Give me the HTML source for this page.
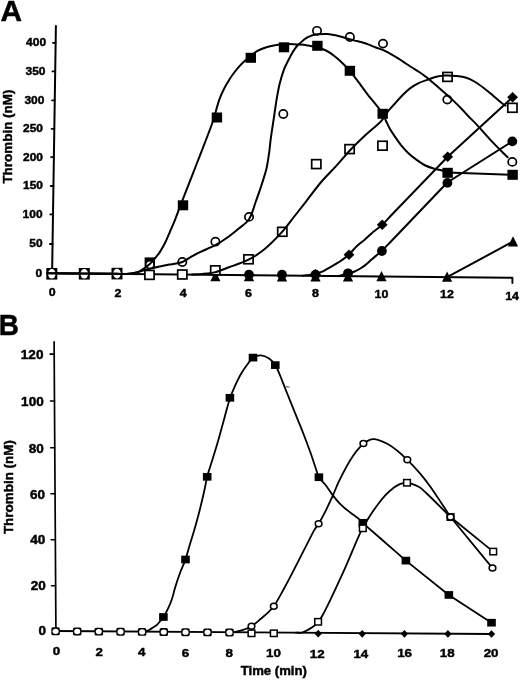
<!DOCTYPE html>
<html><head><meta charset="utf-8"><style>
html,body{margin:0;padding:0;background:#fff;}
svg{display:block;}
text{font-family:"Liberation Sans",sans-serif;font-weight:bold;fill:#000;stroke:#000;stroke-width:0.45px;}
</style></head><body>
<svg width="520" height="681" viewBox="0 0 520 681">
<rect width="520" height="681" fill="#fff"/>
<text transform="translate(0.60,20.80) scale(1.030,1)" font-size="29.00">A</text>
<path d="M55.9,26.0 L52.1,273.3" fill="none" stroke="#000" stroke-width="2" stroke-linecap="round" stroke-linejoin="round"/>
<path d="M52.9,42.8 L55.6,42.8" fill="none" stroke="#000" stroke-width="1.8" stroke-linecap="round" stroke-linejoin="round"/>
<path d="M52.5,71.4 L55.2,71.4" fill="none" stroke="#000" stroke-width="1.8" stroke-linecap="round" stroke-linejoin="round"/>
<path d="M52.1,100.3 L54.8,100.3" fill="none" stroke="#000" stroke-width="1.8" stroke-linecap="round" stroke-linejoin="round"/>
<path d="M51.6,128.8 L54.3,128.8" fill="none" stroke="#000" stroke-width="1.8" stroke-linecap="round" stroke-linejoin="round"/>
<path d="M51.2,157.2 L53.9,157.2" fill="none" stroke="#000" stroke-width="1.8" stroke-linecap="round" stroke-linejoin="round"/>
<path d="M50.7,186.0 L53.4,186.0" fill="none" stroke="#000" stroke-width="1.8" stroke-linecap="round" stroke-linejoin="round"/>
<path d="M50.3,214.4 L53.0,214.4" fill="none" stroke="#000" stroke-width="1.8" stroke-linecap="round" stroke-linejoin="round"/>
<path d="M49.9,244.0 L52.6,244.0" fill="none" stroke="#000" stroke-width="1.8" stroke-linecap="round" stroke-linejoin="round"/>
<text transform="translate(26.08,45.75) scale(1.060,1)" font-size="11.30">400</text>
<text transform="translate(25.48,75.05) scale(1.060,1)" font-size="11.30">350</text>
<text transform="translate(24.38,103.86) scale(1.060,1)" font-size="11.30">300</text>
<text transform="translate(22.98,132.46) scale(1.060,1)" font-size="11.30">250</text>
<text transform="translate(22.98,160.66) scale(1.060,1)" font-size="11.30">200</text>
<text transform="translate(22.98,189.26) scale(1.060,1)" font-size="11.30">150</text>
<text transform="translate(22.58,218.36) scale(1.060,1)" font-size="11.30">100</text>
<text transform="translate(29.28,247.46) scale(1.060,1)" font-size="11.30">50</text>
<text transform="translate(35.59,276.56) scale(1.060,1)" font-size="11.30">0</text>
<text transform="translate(48.69,296.46) scale(1.070,1)" font-size="11.60">0</text>
<text transform="translate(114.59,296.56) scale(1.070,1)" font-size="11.60">2</text>
<text transform="translate(179.66,296.70) scale(1.070,1)" font-size="11.60">4</text>
<text transform="translate(245.02,297.06) scale(1.070,1)" font-size="11.60">6</text>
<text transform="translate(312.02,297.06) scale(1.070,1)" font-size="11.60">8</text>
<text transform="translate(374.59,297.56) scale(1.070,1)" font-size="11.60">10</text>
<text transform="translate(439.99,298.46) scale(1.070,1)" font-size="11.60">12</text>
<text transform="translate(505.14,299.60) scale(1.070,1)" font-size="11.60">14</text>
<text transform="translate(12.4,183.6) rotate(-90)" font-size="13.45">Thrombin (nM)</text>
<path d="M52.1,273.2 L512.4,277.8 L512.4,283.0" fill="none" stroke="#000" stroke-width="1.9" stroke-linecap="round" stroke-linejoin="round"/>
<polygon points="215.4,270.9 220.5,281.2 210.3,281.2" fill="#000"/>
<polygon points="249.0,271.0 254.1,281.3 243.9,281.3" fill="#000"/>
<polygon points="282.0,271.1 287.1,281.4 276.9,281.4" fill="#000"/>
<polygon points="315.5,271.2 320.6,281.5 310.4,281.5" fill="#000"/>
<polygon points="348.0,271.3 353.1,281.6 342.9,281.6" fill="#000"/>
<polygon points="381.5,271.0 386.6,281.3 376.4,281.3" fill="#000"/>
<polygon points="447.1,271.4 452.2,281.7 442.0,281.7" fill="#000"/>
<polygon points="513.0,236.2 518.1,246.5 507.9,246.5" fill="#000"/>
<circle cx="249.0" cy="274.6" r="4.90" fill="#000"/>
<circle cx="282.0" cy="274.6" r="4.90" fill="#000"/>
<circle cx="315.5" cy="274.6" r="4.90" fill="#000"/>
<circle cx="348.0" cy="273.3" r="4.90" fill="#000"/>
<circle cx="381.9" cy="251.0" r="4.90" fill="#000"/>
<circle cx="447.4" cy="182.9" r="4.90" fill="#000"/>
<circle cx="512.3" cy="141.4" r="4.90" fill="#000"/>
<polygon points="315.50,269.00 320.90,274.30 315.50,279.60 310.10,274.30" fill="#000"/>
<polygon points="349.00,249.40 354.40,254.70 349.00,260.00 343.60,254.70" fill="#000"/>
<polygon points="382.20,219.50 387.60,224.80 382.20,230.10 376.80,224.80" fill="#000"/>
<polygon points="447.70,151.50 453.10,156.80 447.70,162.10 442.30,156.80" fill="#000"/>
<polygon points="512.60,91.90 518.00,97.20 512.60,102.50 507.20,97.20" fill="#000"/>
<rect x="144.90" y="270.45" width="9.20" height="8.90" rx="0.00" fill="#fff" stroke="#000" stroke-width="1.7"/>
<rect x="177.70" y="270.05" width="9.20" height="8.90" rx="0.00" fill="#fff" stroke="#000" stroke-width="1.7"/>
<rect x="210.70" y="265.85" width="9.20" height="8.90" rx="0.00" fill="#fff" stroke="#000" stroke-width="1.7"/>
<rect x="243.90" y="254.85" width="9.20" height="8.90" rx="0.00" fill="#fff" stroke="#000" stroke-width="1.7"/>
<rect x="277.70" y="227.35" width="9.20" height="8.90" rx="0.00" fill="#fff" stroke="#000" stroke-width="1.7"/>
<rect x="311.70" y="159.65" width="9.20" height="8.90" rx="0.00" fill="#fff" stroke="#000" stroke-width="1.7"/>
<rect x="345.00" y="144.65" width="9.20" height="8.90" rx="0.00" fill="#fff" stroke="#000" stroke-width="1.7"/>
<rect x="377.90" y="141.25" width="9.20" height="8.90" rx="0.00" fill="#fff" stroke="#000" stroke-width="1.7"/>
<rect x="442.90" y="72.45" width="9.20" height="8.90" rx="0.00" fill="#fff" stroke="#000" stroke-width="1.7"/>
<rect x="507.80" y="103.35" width="9.20" height="8.90" rx="0.00" fill="#fff" stroke="#000" stroke-width="1.7"/>
<rect x="144.60" y="257.40" width="10.40" height="10.00" rx="0.00" fill="#000"/>
<rect x="177.80" y="200.30" width="10.40" height="10.00" rx="0.00" fill="#000"/>
<rect x="211.70" y="112.50" width="10.40" height="10.00" rx="0.00" fill="#000"/>
<rect x="245.60" y="52.80" width="10.40" height="10.00" rx="0.00" fill="#000"/>
<rect x="278.80" y="42.30" width="10.40" height="10.00" rx="0.00" fill="#000"/>
<rect x="312.20" y="40.80" width="10.40" height="10.00" rx="0.00" fill="#000"/>
<rect x="344.70" y="65.80" width="10.40" height="10.00" rx="0.00" fill="#000"/>
<rect x="377.50" y="108.80" width="10.40" height="10.00" rx="0.00" fill="#000"/>
<rect x="442.40" y="167.80" width="10.40" height="10.00" rx="0.00" fill="#000"/>
<rect x="507.40" y="169.80" width="10.40" height="10.00" rx="0.00" fill="#000"/>
<ellipse cx="149.90" cy="264.60" rx="4.15" ry="4.05" fill="#fff" stroke="#000" stroke-width="1.7"/>
<ellipse cx="182.30" cy="262.00" rx="4.15" ry="4.05" fill="#fff" stroke="#000" stroke-width="1.7"/>
<ellipse cx="215.40" cy="241.70" rx="4.15" ry="4.05" fill="#fff" stroke="#000" stroke-width="1.7"/>
<ellipse cx="249.00" cy="216.90" rx="4.15" ry="4.05" fill="#fff" stroke="#000" stroke-width="1.7"/>
<ellipse cx="283.30" cy="114.00" rx="4.15" ry="4.05" fill="#fff" stroke="#000" stroke-width="1.7"/>
<ellipse cx="317.00" cy="30.80" rx="4.15" ry="4.05" fill="#fff" stroke="#000" stroke-width="1.7"/>
<ellipse cx="349.90" cy="37.00" rx="4.15" ry="4.05" fill="#fff" stroke="#000" stroke-width="1.7"/>
<ellipse cx="383.00" cy="43.60" rx="4.15" ry="4.05" fill="#fff" stroke="#000" stroke-width="1.7"/>
<ellipse cx="447.30" cy="99.60" rx="4.15" ry="4.05" fill="#fff" stroke="#000" stroke-width="1.7"/>
<ellipse cx="512.30" cy="161.90" rx="4.15" ry="4.05" fill="#fff" stroke="#000" stroke-width="1.7"/>
<rect x="46.30" y="268.00" width="11.00" height="11.60" rx="0.00" fill="#000"/>
<ellipse cx="51.8" cy="273.8" rx="3.8" ry="4.8" fill="#fff"/>
<rect x="78.80" y="268.00" width="11.00" height="11.60" rx="0.00" fill="#000"/>
<ellipse cx="84.3" cy="273.8" rx="3.8" ry="4.8" fill="#fff"/>
<rect x="111.50" y="267.80" width="11.00" height="11.60" rx="0.00" fill="#000"/>
<ellipse cx="117.0" cy="273.6" rx="3.8" ry="4.8" fill="#fff"/>
<path d="M47.2,273.2 C70.5,273.4 104.7,273.7 117.0,273.8 C121.4,273.9 123.2,274.1 126.0,273.9 C128.5,273.8 130.8,273.6 133.0,273.2 C135.1,272.8 137.0,272.5 139.0,271.6 C141.1,270.7 143.3,269.0 145.3,267.6 C147.2,266.2 149.0,264.9 150.6,263.3 C152.3,261.7 153.7,259.8 155.2,258.0 C156.8,256.1 158.3,254.4 159.8,252.1 C161.6,249.4 163.5,246.0 165.1,242.8 C166.8,239.4 168.2,235.8 169.7,232.3 C171.2,228.8 172.9,225.3 174.3,221.7 C175.7,218.2 177.0,214.6 178.3,211.1 C179.7,207.5 180.6,205.0 182.4,200.4 C185.8,191.7 192.1,175.7 197.0,163.0 C202.1,149.8 209.4,131.5 212.5,122.5 C214.0,118.1 214.4,116.1 215.5,112.5 C216.7,108.4 217.9,103.4 219.4,99.3 C220.8,95.5 222.4,92.0 224.1,88.7 C225.6,85.7 227.2,83.1 228.8,80.5 C230.3,78.0 231.8,75.8 233.5,73.5 C235.3,71.1 237.3,68.6 239.3,66.4 C241.2,64.3 243.2,62.4 245.2,60.6 C247.1,58.8 249.0,57.2 251.0,55.6 C253.0,54.0 254.9,52.4 257.0,51.2 C259.1,50.0 261.1,49.2 263.5,48.3 C266.2,47.3 269.4,46.5 272.3,45.8 C274.9,45.2 277.3,44.7 280.0,44.4 C282.8,44.1 285.9,44.1 288.7,44.1 C291.4,44.1 294.2,44.4 296.8,44.5 C299.2,44.6 301.5,44.6 303.6,44.8 C305.3,45.0 306.7,45.3 308.3,45.6 C309.9,45.9 311.4,46.2 313.0,46.5 C314.6,46.8 316.2,47.0 318.0,47.5 C320.4,48.2 323.4,49.2 326.0,50.5 C328.7,51.9 331.5,53.8 334.0,55.7 C336.5,57.6 338.6,59.4 341.0,61.7 C343.8,64.4 346.6,67.0 349.9,70.8 C354.6,76.3 360.5,85.1 366.0,92.3 C371.5,99.5 379.4,108.3 382.8,113.9 C384.7,117.1 385.2,119.3 386.5,122.0 C387.8,124.6 388.9,127.2 390.4,129.8 C392.0,132.5 394.0,135.3 395.8,137.9 C397.6,140.4 399.2,142.9 401.2,145.3 C403.3,147.8 405.5,150.4 407.9,152.7 C410.4,155.1 413.1,157.3 416.0,159.4 C419.0,161.6 422.2,163.9 425.4,165.5 C428.4,167.0 431.8,167.9 434.8,168.8 C437.6,169.6 440.6,170.2 442.9,170.9 C444.7,171.4 446.0,171.9 447.6,172.4" fill="none" stroke="#000" stroke-width="2.0" stroke-linecap="round" stroke-linejoin="round"/>
<path d="M447.6,172.6 L512.6,174.9" fill="none" stroke="#000" stroke-width="2.0" stroke-linecap="round" stroke-linejoin="round"/>
<path d="M47.2,273.2 C70.5,273.4 104.7,273.7 117.0,273.8 C121.4,273.9 123.1,274.1 126.0,273.9 C128.7,273.8 131.5,273.5 134.0,273.0 C136.2,272.6 137.9,272.1 140.0,271.5 C142.5,270.8 145.1,269.9 147.9,269.2 C151.2,268.4 155.0,267.6 158.5,266.8 C162.0,266.0 165.4,265.4 169.1,264.6 C173.3,263.8 178.6,263.4 182.3,262.0 C185.4,260.8 187.4,259.0 190.2,257.4 C193.3,255.7 196.3,253.9 200.0,252.1 C204.5,249.9 210.5,247.8 215.4,245.2 C220.1,242.6 224.8,239.4 228.8,236.5 C232.4,233.9 235.3,231.6 238.5,228.8 C242.0,225.8 246.2,223.3 249.0,219.2 C252.3,214.4 253.8,206.9 256.0,201.0 C258.0,195.4 259.9,190.1 261.7,184.6 C263.4,179.2 265.2,173.9 266.5,168.5 C267.7,163.1 268.5,157.3 269.2,152.3 C269.8,147.9 270.1,144.1 270.6,140.0 C271.1,136.0 271.7,132.3 272.3,128.2 C273.0,123.6 273.8,118.4 274.5,113.5 C275.2,108.6 275.9,103.7 276.7,98.8 C277.6,93.9 278.4,89.0 279.6,84.1 C280.8,79.2 282.6,73.2 284.0,69.4 C284.9,67.0 285.7,65.5 286.7,63.5 C287.7,61.3 288.9,59.0 290.1,56.9 C291.2,54.8 292.3,52.8 293.5,50.9 C294.6,49.2 295.6,47.5 296.8,46.2 C297.9,45.0 299.1,44.1 300.2,43.1 C301.3,42.1 302.5,41.0 303.6,40.1 C304.7,39.2 305.8,38.4 306.9,37.7 C308.0,37.1 309.2,36.6 310.3,36.1 C311.4,35.7 312.4,35.3 313.6,35.0 C314.9,34.7 316.3,34.5 318.0,34.3 C320.5,34.1 324.0,33.8 327.3,34.1 C331.1,34.4 335.5,35.4 339.4,36.3 C343.0,37.1 346.9,38.5 349.8,39.3 C351.8,39.8 353.1,40.1 355.0,40.6 C357.1,41.1 359.6,41.6 361.9,42.3 C364.2,43.0 366.5,43.7 368.8,44.6 C371.1,45.5 373.5,46.6 375.8,47.5 C378.1,48.4 380.4,48.9 382.7,49.8 C385.0,50.8 387.3,52.1 389.6,53.3 C391.9,54.6 394.2,55.9 396.5,57.3 C398.8,58.7 401.1,60.4 403.4,61.9 C405.7,63.4 407.9,64.9 410.4,66.5 C413.3,68.4 416.9,70.4 420.0,72.5 C423.1,74.7 426.2,76.9 429.2,79.4 C432.3,81.9 435.4,84.8 438.5,87.5 C441.6,90.2 444.9,93.1 447.7,95.6 C450.2,97.8 452.3,99.7 454.6,101.9 C456.9,104.1 459.2,106.4 461.5,108.8 C463.8,111.2 466.0,113.8 468.4,116.3 C471.0,119.0 473.4,121.1 476.5,124.4 C480.9,129.1 487.7,137.0 492.3,141.9 C495.7,145.5 498.7,148.4 501.5,151.2 C503.8,153.5 505.6,155.3 507.7,157.3" fill="none" stroke="#000" stroke-width="2.0" stroke-linecap="round" stroke-linejoin="round"/>
<path d="M192.0,274.6 C195.7,274.4 199.2,274.3 203.0,273.9 C207.0,273.5 211.2,273.1 215.4,272.1 C219.8,271.0 223.9,269.1 228.8,267.3 C234.8,265.1 242.5,262.6 248.5,259.6 C254.0,256.8 258.4,254.0 263.5,250.0 C269.7,245.1 277.0,237.6 282.3,231.7 C286.7,226.8 289.7,222.4 293.5,217.5 C297.5,212.4 301.5,207.3 305.8,201.8 C310.7,195.6 315.9,188.2 321.2,182.0 C326.2,176.2 331.6,171.0 336.5,165.6 C341.1,160.6 345.0,155.7 349.6,150.8 C354.4,145.7 359.7,140.6 365.0,135.6 C370.4,130.5 377.7,125.0 381.8,120.3 C384.6,117.1 385.9,114.0 388.1,111.2 C390.3,108.5 392.6,106.1 395.0,103.5 C397.5,100.7 400.1,97.6 402.7,95.0 C405.2,92.5 407.7,90.1 410.4,88.1 C412.9,86.2 415.2,84.7 418.1,83.3 C421.3,81.7 425.3,80.6 428.7,79.4 C431.7,78.3 434.7,77.1 437.3,76.5 C439.4,76.0 441.3,75.8 443.1,75.6 C444.7,75.4 445.8,75.4 447.5,75.4 C449.9,75.4 453.0,75.6 456.0,76.0 C459.3,76.4 463.1,76.8 466.4,77.8 C469.5,78.8 472.3,80.3 475.2,82.0 C478.2,83.8 481.1,86.0 484.0,88.2 C487.0,90.5 490.1,93.1 492.9,95.4 C495.4,97.5 497.7,99.6 499.9,101.4 C501.8,103.0 503.6,104.3 505.5,105.7" fill="none" stroke="#000" stroke-width="2.0" stroke-linecap="round" stroke-linejoin="round"/>
<path d="M303.0,275.7 C307.1,275.1 312.1,274.8 315.4,274.0 C317.6,273.5 318.8,273.1 320.8,272.2 C323.5,271.0 327.0,269.0 330.0,267.3 C333.1,265.6 336.1,263.9 339.2,261.9 C342.4,259.7 346.0,257.3 348.9,254.7 C351.6,252.2 353.5,249.3 356.2,246.8 C359.0,244.1 362.5,241.6 365.4,239.0 C368.1,236.6 370.4,234.3 373.1,232.0 C375.9,229.6 379.0,227.7 382.0,225.0 C385.3,222.0 387.3,219.4 392.0,214.5 C403.0,203.0 429.1,176.0 447.7,156.8" fill="none" stroke="#000" stroke-width="2.0" stroke-linecap="round" stroke-linejoin="round"/>
<path d="M447.7,156.8 L512.6,97.2" fill="none" stroke="#000" stroke-width="2.0" stroke-linecap="round" stroke-linejoin="round"/>
<path d="M338.0,276.1 C341.5,275.1 345.5,274.0 348.5,273.2 C350.8,272.6 352.5,272.4 354.6,271.5 C357.1,270.5 359.7,269.1 362.3,267.3 C365.3,265.2 368.4,262.3 371.5,259.6 C374.8,256.8 378.6,253.7 381.8,250.7 C384.7,248.0 386.1,246.5 390.0,242.5 C400.5,231.7 428.2,202.5 447.3,182.5" fill="none" stroke="#000" stroke-width="2.0" stroke-linecap="round" stroke-linejoin="round"/>
<path d="M447.3,182.5 L512.3,141.4" fill="none" stroke="#000" stroke-width="2.0" stroke-linecap="round" stroke-linejoin="round"/>
<path d="M447.1,277.1 L513.0,241.6" fill="none" stroke="#000" stroke-width="2.0" stroke-linecap="round" stroke-linejoin="round"/>
<text transform="translate(-1.16,335.49) scale(0.950,1)" font-size="29.40">B</text>
<path d="M54.1,341.8 L55.9,628.0" fill="none" stroke="#000" stroke-width="1.7" stroke-linecap="round" stroke-linejoin="round"/>
<path d="M50.1,354.1 L54.2,354.1" fill="none" stroke="#000" stroke-width="1.6" stroke-linecap="round" stroke-linejoin="round"/>
<path d="M50.4,401.0 L54.5,401.0" fill="none" stroke="#000" stroke-width="1.6" stroke-linecap="round" stroke-linejoin="round"/>
<path d="M50.7,447.8 L54.8,447.8" fill="none" stroke="#000" stroke-width="1.6" stroke-linecap="round" stroke-linejoin="round"/>
<path d="M51.0,493.8 L55.1,493.8" fill="none" stroke="#000" stroke-width="1.6" stroke-linecap="round" stroke-linejoin="round"/>
<path d="M51.2,539.8 L55.3,539.8" fill="none" stroke="#000" stroke-width="1.6" stroke-linecap="round" stroke-linejoin="round"/>
<path d="M51.5,585.7 L55.6,585.7" fill="none" stroke="#000" stroke-width="1.6" stroke-linecap="round" stroke-linejoin="round"/>
<text transform="translate(20.82,358.71) scale(1.050,1)" font-size="12.90">120</text>
<text transform="translate(21.12,405.81) scale(1.050,1)" font-size="12.90">100</text>
<text transform="translate(28.71,452.51) scale(1.050,1)" font-size="12.90">80</text>
<text transform="translate(29.91,498.62) scale(1.050,1)" font-size="12.90">60</text>
<text transform="translate(30.31,544.41) scale(1.050,1)" font-size="12.90">40</text>
<text transform="translate(30.81,590.12) scale(1.050,1)" font-size="12.90">20</text>
<text transform="translate(38.49,635.12) scale(1.050,1)" font-size="12.90">0</text>
<text transform="translate(52.73,654.53) scale(1.130,1)" font-size="11.80">0</text>
<text transform="translate(95.43,656.13) scale(1.130,1)" font-size="11.80">2</text>
<text transform="translate(138.10,656.07) scale(1.130,1)" font-size="11.80">4</text>
<text transform="translate(181.67,657.13) scale(1.130,1)" font-size="11.80">6</text>
<text transform="translate(225.47,657.13) scale(1.130,1)" font-size="11.80">8</text>
<text transform="translate(265.97,657.33) scale(1.130,1)" font-size="11.80">10</text>
<text transform="translate(309.87,657.73) scale(1.130,1)" font-size="11.80">12</text>
<text transform="translate(353.40,657.67) scale(1.130,1)" font-size="11.80">14</text>
<text transform="translate(397.17,657.43) scale(1.130,1)" font-size="11.80">16</text>
<text transform="translate(439.80,657.43) scale(1.130,1)" font-size="11.80">18</text>
<text transform="translate(483.67,656.83) scale(1.130,1)" font-size="11.80">20</text>
<text transform="translate(240.7,675.4) scale(1.02,1)" font-size="12.9">Time (min)</text>
<text transform="translate(12.5,534.1) rotate(-90)" font-size="13.45">Thrombin (nM)</text>
<path d="M56.1,631.0 L491.7,634.0" fill="none" stroke="#000" stroke-width="1.9" stroke-linecap="round" stroke-linejoin="round"/>
<path d="M142.0,631.6 C143.5,631.5 145.2,631.7 146.5,631.3 C147.6,631.0 148.4,630.3 149.5,629.7 C150.7,629.0 152.1,628.1 153.4,627.3 C154.7,626.4 156.1,625.6 157.2,624.6 C158.2,623.7 158.9,622.6 159.9,621.5 C161.0,620.1 162.5,618.5 163.5,617.0 C164.4,615.7 164.9,614.6 165.7,613.1 C166.7,611.3 167.8,609.1 168.8,606.9 C169.9,604.6 170.9,602.3 171.8,599.5 C173.0,596.1 173.8,592.1 175.0,588.0 C176.4,583.3 178.2,577.8 180.0,573.0 C181.7,568.4 183.9,564.2 185.5,559.5 C187.2,554.6 188.4,549.2 190.0,544.0 C191.6,538.6 193.4,533.2 195.0,527.5 C196.7,521.5 198.4,515.4 200.0,509.0 C201.7,502.1 203.7,493.5 205.0,487.5 C205.9,483.2 206.2,480.5 207.2,476.5 C208.5,471.5 210.5,465.9 212.3,460.1 C214.3,453.7 216.5,446.6 218.5,439.6 C220.6,432.2 222.7,424.1 224.7,416.9 C226.5,410.3 228.2,403.5 230.1,398.0 C231.6,393.5 233.1,390.1 234.9,386.1 C236.8,382.0 238.9,377.6 241.1,373.8 C243.1,370.4 245.2,367.3 247.3,364.5 C249.2,362.0 250.7,359.2 253.0,357.7 C255.2,356.2 258.3,355.3 260.9,355.4 C263.6,355.5 266.7,356.9 269.1,358.5 C271.5,360.1 273.5,362.5 275.3,365.1 C277.3,368.1 278.6,372.1 280.3,376.0 C282.2,380.5 283.8,385.1 286.0,390.5 C288.8,397.4 292.5,406.7 295.5,414.2 C298.2,420.9 300.7,426.7 303.2,433.2 C305.8,439.8 308.5,447.1 310.8,453.5 C312.8,459.3 314.8,465.6 316.3,470.0 C317.3,472.9 317.5,475.0 318.8,477.3 C320.3,479.8 322.9,481.7 325.0,484.3 C327.4,487.3 329.7,491.2 332.3,494.6 C335.0,498.1 338.0,501.9 341.1,504.9 C343.9,507.7 346.9,509.9 349.9,512.2 C352.8,514.5 356.4,516.8 358.7,518.8 C360.4,520.2 360.9,521.1 362.8,522.8 C366.5,526.3 373.7,532.4 380.0,538.0 C387.7,544.8 397.3,553.1 405.9,560.6" fill="none" stroke="#000" stroke-width="1.8" stroke-linecap="round" stroke-linejoin="round"/>
<path d="M405.9,560.6 L448.8,595.0 L491.5,622.7" fill="none" stroke="#000" stroke-width="1.8" stroke-linecap="round" stroke-linejoin="round"/>
<path d="M234.0,632.2 C236.5,631.6 238.9,631.3 241.5,630.4 C244.6,629.4 248.3,628.1 251.5,626.2 C254.8,624.2 257.9,621.2 260.8,618.8 C263.5,616.5 266.2,614.3 268.5,612.1 C270.5,610.2 271.9,608.9 273.8,606.3 C276.8,602.2 280.4,595.2 283.8,589.0 C287.6,582.1 291.6,574.3 295.4,566.9 C299.3,559.4 303.4,551.0 306.9,544.3 C309.7,538.9 312.3,533.4 314.6,529.6 C316.1,527.1 317.3,525.9 318.8,523.5 C320.7,520.4 322.9,516.3 325.0,512.2 C327.4,507.5 330.0,501.8 332.3,496.8 C334.4,492.1 336.2,487.3 338.2,482.9 C340.1,478.8 342.1,474.9 344.1,471.1 C346.0,467.5 347.9,464.1 349.9,460.8 C351.8,457.7 353.9,454.5 355.8,452.0 C357.3,450.0 358.9,448.4 360.2,446.9 C361.3,445.6 361.8,444.6 363.3,443.5 C365.6,441.9 369.6,439.4 373.3,439.2 C377.6,439.0 383.5,441.9 387.7,444.0 C391.4,445.9 394.1,448.3 397.3,450.8 C400.7,453.5 403.8,456.4 407.3,459.8 C411.5,463.9 416.5,469.2 420.4,473.8 C424.0,478.0 426.3,481.1 430.0,486.3 C435.7,494.2 443.7,506.8 450.5,517.0" fill="none" stroke="#000" stroke-width="1.8" stroke-linecap="round" stroke-linejoin="round"/>
<path d="M450.5,517.0 L492.5,568.1" fill="none" stroke="#000" stroke-width="1.8" stroke-linecap="round" stroke-linejoin="round"/>
<path d="M296.0,632.7 C298.0,632.6 300.0,633.1 302.0,632.6 C304.3,632.1 306.7,630.6 308.8,629.4 C310.7,628.3 312.4,627.3 314.0,626.0 C315.5,624.7 316.9,623.4 318.2,621.8 C319.7,619.9 320.8,618.4 322.6,615.2 C327.1,607.3 336.5,586.9 342.9,572.9 C349.1,559.3 357.3,538.7 360.5,532.3 C361.5,530.2 361.9,529.9 362.8,528.3 C364.1,526.0 365.6,522.9 367.5,519.8 C370.0,515.6 373.8,509.9 376.9,505.7 C379.6,502.0 382.2,498.6 385.0,495.6 C387.6,492.8 390.4,490.2 393.1,488.2 C395.4,486.5 397.4,485.0 399.8,484.1 C402.1,483.2 404.7,482.7 407.2,482.8 C409.7,482.9 412.4,483.9 414.6,484.8 C416.6,485.6 418.2,486.3 420.0,487.5 C422.1,488.9 423.5,490.5 426.2,493.0 C431.7,498.1 442.4,509.0 450.5,517.0" fill="none" stroke="#000" stroke-width="1.8" stroke-linecap="round" stroke-linejoin="round"/>
<path d="M450.5,517.0 L493.2,551.6" fill="none" stroke="#000" stroke-width="1.8" stroke-linecap="round" stroke-linejoin="round"/>
<path d="M286.2,386.8 L289,387" stroke="#444" stroke-width="1.1" stroke-linecap="round"/>
<rect x="51.35" y="627.35" width="8.50" height="7.90" rx="1.60" fill="#000"/>
<ellipse cx="55.60" cy="631.30" rx="3.0" ry="2.65" fill="#fff"/>
<rect x="72.95" y="627.50" width="8.50" height="7.90" rx="1.60" fill="#000"/>
<ellipse cx="77.20" cy="631.45" rx="3.0" ry="2.65" fill="#fff"/>
<rect x="94.55" y="627.64" width="8.50" height="7.90" rx="1.60" fill="#000"/>
<ellipse cx="98.80" cy="631.59" rx="3.0" ry="2.65" fill="#fff"/>
<rect x="116.30" y="627.79" width="8.50" height="7.90" rx="1.60" fill="#000"/>
<ellipse cx="120.55" cy="631.74" rx="3.0" ry="2.65" fill="#fff"/>
<rect x="137.85" y="627.94" width="8.50" height="7.90" rx="1.60" fill="#000"/>
<ellipse cx="142.10" cy="631.89" rx="3.0" ry="2.65" fill="#fff"/>
<rect x="159.50" y="628.09" width="8.50" height="7.90" rx="1.60" fill="#000"/>
<ellipse cx="163.75" cy="632.04" rx="3.0" ry="2.65" fill="#fff"/>
<rect x="181.25" y="628.24" width="8.50" height="7.90" rx="1.60" fill="#000"/>
<ellipse cx="185.50" cy="632.19" rx="3.0" ry="2.65" fill="#fff"/>
<rect x="203.25" y="628.39" width="8.50" height="7.90" rx="1.60" fill="#000"/>
<ellipse cx="207.50" cy="632.34" rx="3.0" ry="2.65" fill="#fff"/>
<rect x="225.25" y="628.54" width="8.50" height="7.90" rx="1.60" fill="#000"/>
<ellipse cx="229.50" cy="632.49" rx="3.0" ry="2.65" fill="#fff"/>
<polygon points="318.20,629.85 321.85,633.70 318.20,637.55 314.55,633.70" fill="#000"/>
<polygon points="362.20,629.95 365.85,633.80 362.20,637.65 358.55,633.80" fill="#000"/>
<polygon points="404.40,629.95 408.05,633.80 404.40,637.65 400.75,633.80" fill="#000"/>
<polygon points="447.90,630.05 451.55,633.90 447.90,637.75 444.25,633.90" fill="#000"/>
<polygon points="491.50,630.15 495.15,634.00 491.50,637.85 487.85,634.00" fill="#000"/>
<rect x="159.10" y="613.15" width="8.60" height="7.70" rx="0.00" fill="#000"/>
<rect x="181.20" y="555.65" width="8.60" height="7.70" rx="0.00" fill="#000"/>
<rect x="202.90" y="472.95" width="8.60" height="7.70" rx="0.00" fill="#000"/>
<rect x="225.60" y="393.95" width="8.60" height="7.70" rx="0.00" fill="#000"/>
<rect x="248.70" y="353.75" width="8.60" height="7.70" rx="0.00" fill="#000"/>
<rect x="271.00" y="361.25" width="8.60" height="7.70" rx="0.00" fill="#000"/>
<rect x="314.60" y="473.35" width="8.60" height="7.70" rx="0.00" fill="#000"/>
<rect x="358.50" y="518.95" width="8.60" height="7.70" rx="0.00" fill="#000"/>
<rect x="401.60" y="556.75" width="8.60" height="7.70" rx="0.00" fill="#000"/>
<rect x="444.55" y="591.10" width="8.60" height="7.70" rx="0.00" fill="#000"/>
<rect x="487.20" y="618.85" width="8.60" height="7.70" rx="0.00" fill="#000"/>
<rect x="248.15" y="630.10" width="6.70" height="6.40" rx="0.00" fill="#fff" stroke="#000" stroke-width="1.5"/>
<rect x="270.45" y="630.10" width="6.70" height="6.40" rx="0.00" fill="#fff" stroke="#000" stroke-width="1.5"/>
<rect x="314.75" y="618.60" width="6.70" height="6.40" rx="0.00" fill="#fff" stroke="#000" stroke-width="1.5"/>
<rect x="359.45" y="525.10" width="6.70" height="6.40" rx="0.00" fill="#fff" stroke="#000" stroke-width="1.5"/>
<rect x="403.65" y="479.55" width="6.70" height="6.40" rx="0.00" fill="#fff" stroke="#000" stroke-width="1.5"/>
<rect x="447.15" y="513.80" width="6.70" height="6.40" rx="0.00" fill="#fff" stroke="#000" stroke-width="1.5"/>
<rect x="489.85" y="548.40" width="6.70" height="6.40" rx="0.00" fill="#fff" stroke="#000" stroke-width="1.5"/>
<ellipse cx="251.50" cy="626.30" rx="3.35" ry="3.00" fill="#fff" stroke="#000" stroke-width="1.5"/>
<ellipse cx="273.80" cy="606.20" rx="3.35" ry="3.00" fill="#fff" stroke="#000" stroke-width="1.5"/>
<ellipse cx="318.60" cy="523.80" rx="3.35" ry="3.00" fill="#fff" stroke="#000" stroke-width="1.5"/>
<ellipse cx="363.40" cy="443.50" rx="3.35" ry="3.00" fill="#fff" stroke="#000" stroke-width="1.5"/>
<ellipse cx="407.30" cy="459.80" rx="3.35" ry="3.00" fill="#fff" stroke="#000" stroke-width="1.5"/>
<ellipse cx="450.50" cy="517.00" rx="3.35" ry="3.00" fill="#fff" stroke="#000" stroke-width="1.5"/>
<ellipse cx="492.50" cy="568.10" rx="3.35" ry="3.00" fill="#fff" stroke="#000" stroke-width="1.5"/>
</svg>
</body></html>
